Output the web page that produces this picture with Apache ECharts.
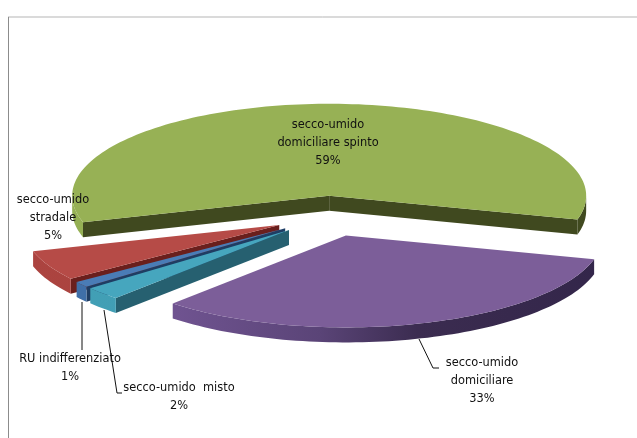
<!DOCTYPE html>
<html><head><meta charset="utf-8">
<style>html,body{margin:0;padding:0;background:#fff}#c{width:637px;height:438px}</style>
<script src="https://cdn.jsdelivr.net/npm/echarts@6/dist/echarts.min.js"></script>
</head><body><div id="c"></div>
<script>
// drawn back to front, sweeping counter-clockwise
const categories = [
  'secco-umido\ndomiciliare spinto',
  'secco-umido\nstradale',
  'RU indifferenziato',
  'secco-umido  misto',
  'secco-umido\ndomiciliare'
];
const values = [58.8, 5.3, 1.0, 2.3, 32.6];

const topColors    = ['#97B155', '#B64B47', '#4A7CB6', '#46A6BE', '#7C5E99'];
const radialColors = ['#40491F', '#6A1F1D', '#1F3D63', '#266070', '#3A2B50'];
const wallStops = [
  [[0, '#95B054'], [0.1, '#95B054'], [0.5, '#66783A'], [1, '#40491F']],
  [[0, '#AC4440'], [1, '#A03E3A']],
  [[0, '#3F6FA8'], [1, '#3F6FA8']],
  [[0, '#42A0B6'], [1, '#3E98AE']],
  [[0, '#73568F'], [0.17, '#6F5390'], [0.45, '#5A4477'], [0.64, '#3B2C50'], [1, '#33264A']]
];
const labelAnchors = [[328, 143], [53, 218], [70, 368], [179, 397], [482, 381]];
const leaders = [null, null,
  [[82, 302], [82, 350]],
  [[104, 310], [117, 393], [122, 393]],
  [[419, 339], [433, 368], [439, 368]]
];

const PIE = {cx: 330, cy: 216, a: 257, b: 92, depth: 15, explode: 0.22, start: -15};
const total = values.reduce((s, v) => s + v, 0);
const rad = d => d * Math.PI / 180;

function sliceGeometry(i) {
  let t0 = PIE.start;
  for (let k = 0; k < i; k++) t0 += values[k] / total * 360;
  const t1 = t0 + values[i] / total * 360, m = (t0 + t1) / 2;
  const ox = PIE.cx + PIE.explode * PIE.a * Math.cos(rad(m));
  const oy = PIE.cy - PIE.explode * PIE.b * Math.sin(rad(m));
  const pt = (t, dz) => [ox + PIE.a * Math.cos(rad(t)), oy - PIE.b * Math.sin(rad(t)) + (dz || 0)];
  return {t0, t1, ox, oy, pt};
}
function arc(g, a, b, dz) {
  const out = [], n = Math.max(2, Math.ceil((b - a) / 1.5));
  for (let k = 0; k <= n; k++) out.push(g.pt(a + (b - a) * k / n, dz));
  return out;
}
function renderSlice(params, api) {
  const i = api.value(0), g = sliceGeometry(i), d = PIE.depth, kids = [];
  const apex = [g.ox, g.oy], apexLow = [g.ox, g.oy + d];
  const radial = t => ({type: 'polygon',
    shape: {points: [apex, g.pt(t), g.pt(t, d), apexLow]},
    style: {fill: radialColors[i]}});
  if (Math.cos(rad(g.t0)) > 0) kids.push(radial(g.t0));
  if (Math.cos(rad(g.t1)) < 0) kids.push(radial(g.t1));
  const grad = new echarts.graphic.LinearGradient(g.ox - PIE.a, 0, g.ox + PIE.a, 0,
    wallStops[i].map(s => ({offset: s[0], color: s[1]})), true);
  [-180, 180].forEach(lo => {
    const a = Math.max(g.t0, lo), b = Math.min(g.t1, lo + 180);
    if (b > a) kids.push({type: 'polygon',
      shape: {points: arc(g, a, b, 0).concat(arc(g, a, b, d).reverse())},
      style: {fill: grad}});
  });
  kids.push({type: 'polygon',
    shape: {points: [apex].concat(arc(g, g.t0, g.t1, 0))},
    style: {fill: topColors[i]}});
  return {type: 'group', children: kids};
}
function renderLabel(params, api) {
  const i = api.value(0), kids = [];
  if (leaders[i]) kids.push({type: 'polyline', shape: {points: leaders[i]},
    style: {fill: 'none', stroke: '#111', lineWidth: 1}});
  kids.push({type: 'text', style: {
    text: categories[i] + '\n' + Math.round(values[i] / total * 100) + '%',
    x: labelAnchors[i][0], y: labelAnchors[i][1], align: 'center', verticalAlign: 'middle',
    font: '11.4px "DejaVu Sans"', lineHeight: 18, fill: '#111'}});
  return {type: 'group', children: kids};
}
const rows = values.map((v, i) => [i, v]);
const chart = echarts.init(document.getElementById('c'), null, {renderer: 'canvas'});
chart.setOption({
  animation: false,
  backgroundColor: '#fff',
  graphic: [
    {type: 'line', shape: {x1: 8, y1: 17, x2: 637, y2: 17}, style: {stroke: '#B5B5B5', lineWidth: 1}},
    {type: 'line', shape: {x1: 8.5, y1: 17, x2: 8.5, y2: 438}, style: {stroke: '#8C8C8C', lineWidth: 1}}
  ],
  series: [
    {type: 'custom', coordinateSystem: 'none', data: rows, renderItem: renderSlice, z: 2, silent: true},
    {type: 'custom', coordinateSystem: 'none', data: rows, renderItem: renderLabel, z: 3, silent: true}
  ]
});
</script></body></html>
